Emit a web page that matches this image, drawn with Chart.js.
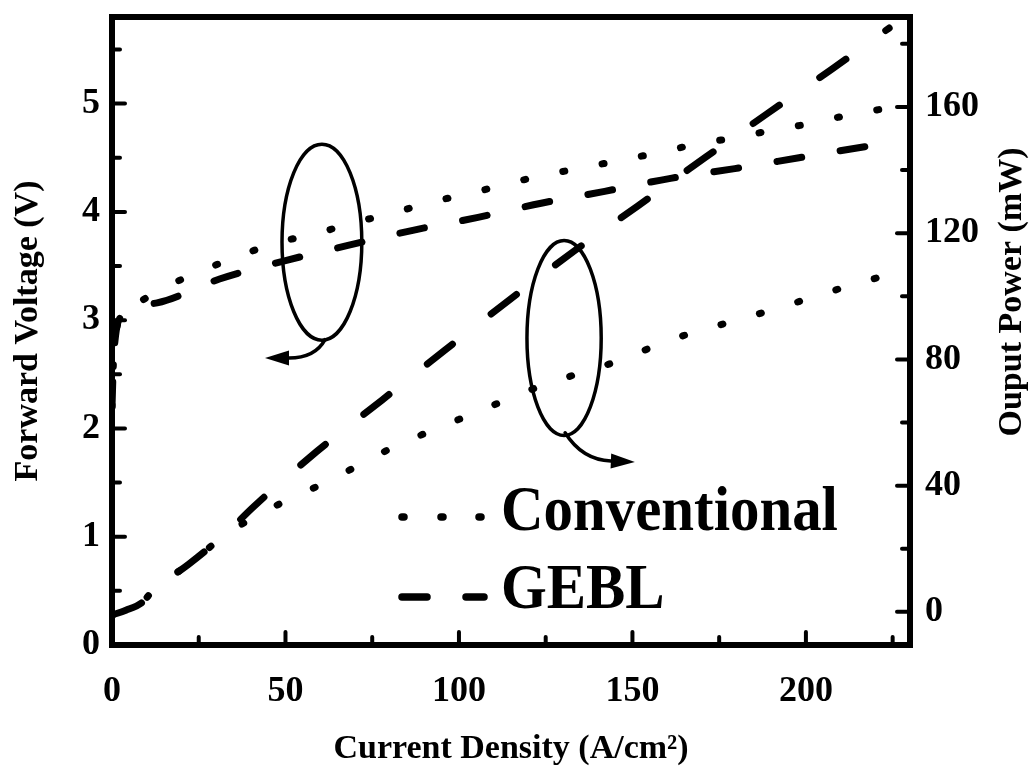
<!DOCTYPE html>
<html>
<head>
<meta charset="utf-8">
<script src="https://cdn.jsdelivr.net/npm/chart.js@4.4.0/dist/chart.umd.min.js"></script>
<style>
  html, body { margin: 0; padding: 0; background: #fff; }
  #wrap { width: 1032px; height: 772px; }
</style>
</head>
<body>
<div id="wrap"><canvas id="chart"></canvas></div>
<script>
// Forward voltage (V) vs current density (A/cm^2)
const convVoltX = [0, 0.4, 1, 2.3, 5, 14.5, 25.4, 36.4, 47, 58.7, 69.7, 81, 92, 103, 114, 124.6, 136, 147, 158, 169, 180.6, 191, 202, 213, 222];
const convVolt  = [2.2, 2.6, 2.85, 3.02, 3.1, 3.29, 3.45, 3.59, 3.71, 3.80, 3.90, 3.99, 4.09, 4.17, 4.26, 4.34, 4.41, 4.48, 4.55, 4.63, 4.69, 4.76, 4.82, 4.90, 4.95];
const gebVoltX  = [0, 0.4, 1, 2.3, 13, 31, 50, 68, 86.7, 105.5, 123.7, 142, 161, 179.5, 198, 216.5, 227];
const gebVolt   = [2.2, 2.6, 2.85, 3.02, 3.16, 3.38, 3.55, 3.69, 3.83, 3.95, 4.08, 4.19, 4.31, 4.40, 4.50, 4.60, 4.65];

// Output power (mW) vs current density
const convPowX = [0, 4, 8.7, 12, 22, 33.5, 45, 55.8, 66.8, 78, 89, 100, 111, 121.7, 133, 144.5, 155.5, 166, 177, 188.7, 200, 210, 221];
const convPow  = [-1, 0.5, 3, 7, 15, 25, 32.4, 38, 44, 50.5, 56, 61, 66, 70.8, 75, 79, 83.8, 88, 91.5, 95.2, 99, 102.5, 106];
const gebPowX  = [0, 4, 8.7, 12, 22, 33.5, 40.5, 59, 77.7, 96, 114.7, 133.5, 151.5, 171, 189, 207.5, 224];
const gebPow   = [-1, 0.5, 3, 7, 15, 25.5, 33, 50.8, 67, 83, 99, 114.6, 128.6, 144, 158, 172, 185];

// tick values
const xTicks = [0, 50, 100, 150, 200];
const xMinor = [25, 75, 125, 175, 225];
const vTicks = [0, 1, 2, 3, 4, 5];
const vMinor = [0.5, 1.5, 2.5, 3.5, 4.5, 5.5];
const pTicks = [0, 40, 80, 120, 160];
const pMinor = [20, 60, 100, 140, 180];

const serif = '"Liberation Serif", "Times New Roman", serif';
Chart.defaults.color = '#000';

function zip(xs, ys) {
    return xs.map((x, i) => ({ x: x, y: ys[i] }));
}

// ellipses and arrows, in data units (x: A/cm^2, y: V)
const loops = [
    { cx: 60.5, cy: 3.72, rx: 11.5, ry: 0.905, from: [61.4, 2.82], ctrl: [58.5, 2.65], tip: [44.1, 2.65] },
    { cx: 130.3, cy: 2.835, rx: 10.7, ry: 0.90, from: [130.6, 1.96], ctrl: [135.5, 1.71], tip: [150.7, 1.69] }
];

const overlay = {
    id: 'overlay',
    afterDraw(chart) {
        const ctx = chart.ctx;
        const a = chart.chartArea;
        const sx = chart.scales.x, sv = chart.scales.y, sp = chart.scales.y1;
        ctx.save();
        ctx.strokeStyle = '#000';
        ctx.fillStyle = '#000';

        function seg(x1, y1, x2, y2) {
            ctx.beginPath();
            ctx.moveTo(x1, y1);
            ctx.lineTo(x2, y2);
            ctx.stroke();
        }

        // inward ticks
        ctx.lineCap = 'round';
        ctx.lineWidth = 4;
        xTicks.forEach(v => { const x = sx.getPixelForValue(v); seg(x, a.bottom, x, a.bottom - 13); });
        xMinor.forEach(v => { const x = sx.getPixelForValue(v); seg(x, a.bottom, x, a.bottom - 8); });
        vTicks.forEach(v => { const y = sv.getPixelForValue(v); seg(a.left, y, a.left + 13, y); });
        vMinor.forEach(v => { const y = sv.getPixelForValue(v); seg(a.left, y, a.left + 8, y); });
        pTicks.forEach(v => { const y = sp.getPixelForValue(v); seg(a.right, y, a.right - 13, y); });
        pMinor.forEach(v => { const y = sp.getPixelForValue(v); seg(a.right, y, a.right - 8, y); });

        // frame
        ctx.lineCap = 'butt';
        ctx.lineJoin = 'miter';
        ctx.lineWidth = 6;
        ctx.strokeRect(a.left, a.top, a.right - a.left, a.bottom - a.top);

        // ellipses with arrows
        ctx.lineWidth = 3.5;
        ctx.lineCap = 'round';
        loops.forEach(l => {
            const cx = sx.getPixelForValue(l.cx), cy = sv.getPixelForValue(l.cy);
            const rx = sx.getPixelForValue(l.cx + l.rx) - cx;
            const ry = cy - sv.getPixelForValue(l.cy + l.ry);
            ctx.beginPath();
            ctx.ellipse(cx, cy, rx, ry, 0, 0, Math.PI * 2);
            ctx.stroke();

            const f = [sx.getPixelForValue(l.from[0]), sv.getPixelForValue(l.from[1])];
            const c = [sx.getPixelForValue(l.ctrl[0]), sv.getPixelForValue(l.ctrl[1])];
            const t = [sx.getPixelForValue(l.tip[0]), sv.getPixelForValue(l.tip[1])];
            const ang = Math.atan2(t[1] - c[1], t[0] - c[0]);
            const hl = 24, hw = 7.5;
            const bx = t[0] - hl * Math.cos(ang), by = t[1] - hl * Math.sin(ang);
            ctx.beginPath();
            ctx.moveTo(f[0], f[1]);
            ctx.quadraticCurveTo(c[0], c[1], bx, by);
            ctx.stroke();
            ctx.beginPath();
            ctx.moveTo(t[0], t[1]);
            ctx.lineTo(bx - hw * Math.sin(ang), by + hw * Math.cos(ang));
            ctx.lineTo(bx + hw * Math.sin(ang), by - hw * Math.cos(ang));
            ctx.closePath();
            ctx.fill();
        });

        // legend
        ctx.lineWidth = 7.5;
        ctx.lineCap = 'round';
        [403, 442, 480].forEach(x => seg(x - 1, 517, x + 1, 517));
        seg(402, 597, 427, 597);
        seg(466, 597, 484, 597);
        ctx.save();
        ctx.translate(501, 0);
        ctx.scale(0.92, 1);   // the original type is a bit condensed
        ctx.font = 'bold 64px ' + serif;
        ctx.textAlign = 'left';
        ctx.textBaseline = 'alphabetic';
        ctx.fillText('Conventional', 0, 530);
        ctx.fillText('GEBL', 0, 608);
        ctx.restore();

        // right axis title, reading bottom to top
        ctx.translate(1012, 292);
        ctx.rotate(-Math.PI / 2);
        ctx.font = 'bold 34px ' + serif;
        ctx.textAlign = 'center';
        ctx.textBaseline = 'middle';
        ctx.fillText('Ouput Power (mW)', 0, 0);
        ctx.restore();
    }
};

const tickFont = { family: serif, size: 36, weight: 'bold' };
const titleFont = { family: serif, size: 34, weight: 'bold' };

// keep the plot box fixed: no extra room for overhanging labels
function fixWidth(w) {
    return s => { s.width = w; s.paddingTop = 0; s.paddingBottom = 0; };
}

new Chart(document.getElementById('chart'), {
    type: 'line',
    data: {
        datasets: [
            {
                label: 'Conventional V', data: zip(convVoltX, convVolt), yAxisID: 'y',
                borderColor: '#000', borderWidth: 7, borderDash: [2, 38], borderCapStyle: 'round',
                pointRadius: 0, cubicInterpolationMode: 'monotone'
            },
            {
                label: 'GEBL V', data: zip(gebVoltX, gebVolt), yAxisID: 'y',
                borderColor: '#000', borderWidth: 7, borderDash: [25, 39], borderCapStyle: 'round',
                pointRadius: 0, cubicInterpolationMode: 'monotone'
            },
            {
                label: 'Conventional P', data: zip(convPowX, convPow), yAxisID: 'y1',
                borderColor: '#000', borderWidth: 7, borderDash: [2, 38], borderCapStyle: 'round',
                pointRadius: 0, cubicInterpolationMode: 'monotone'
            },
            {
                label: 'GEBL P', data: zip(gebPowX, gebPow), yAxisID: 'y1',
                borderColor: '#000', borderWidth: 7, borderDash: [32, 49], borderCapStyle: 'round',
                pointRadius: 0, cubicInterpolationMode: 'monotone'
            }
        ]
    },
    options: {
        responsive: true,
        maintainAspectRatio: false,
        animation: false,
        layout: { padding: { top: 17, left: 0, right: 0, bottom: 0 } },
        plugins: { legend: { display: false }, tooltip: { enabled: false } },
        scales: {
            x: {
                type: 'linear', min: 0, max: 230,
                afterBuildTicks: s => { s.ticks = xTicks.map(v => ({ value: v })); },
                afterFit: s => { s.height = 127; s.paddingLeft = 0; s.paddingRight = 0; },
                ticks: { font: tickFont, color: '#000', padding: 25, maxRotation: 0 },
                grid: { display: false, drawTicks: false },
                border: { display: false },
                title: { display: true, text: 'Current Density (A/cm²)', font: titleFont, color: '#000', padding: { top: 0, bottom: 2 } }
            },
            y: {
                type: 'linear', position: 'left', min: 0, max: 5.8,
                afterBuildTicks: s => { s.ticks = vTicks.map(v => ({ value: v })); },
                afterFit: fixWidth(112),
                ticks: { font: tickFont, color: '#000', padding: 12 },
                grid: { display: false, drawTicks: false },
                border: { display: false },
                title: { display: true, text: 'Forward Voltage (V)', font: titleFont, color: '#000', padding: { top: 8, bottom: 0 } }
            },
            y1: {
                type: 'linear', position: 'right', min: -10.5, max: 188.5,
                afterBuildTicks: s => { s.ticks = pTicks.map(v => ({ value: v })); },
                afterFit: fixWidth(122),
                ticks: { font: tickFont, color: '#000', padding: 15 },
                grid: { display: false, drawTicks: false },
                border: { display: false }
            }
        }
    },
    plugins: [overlay]
});
</script>
</body>
</html>
